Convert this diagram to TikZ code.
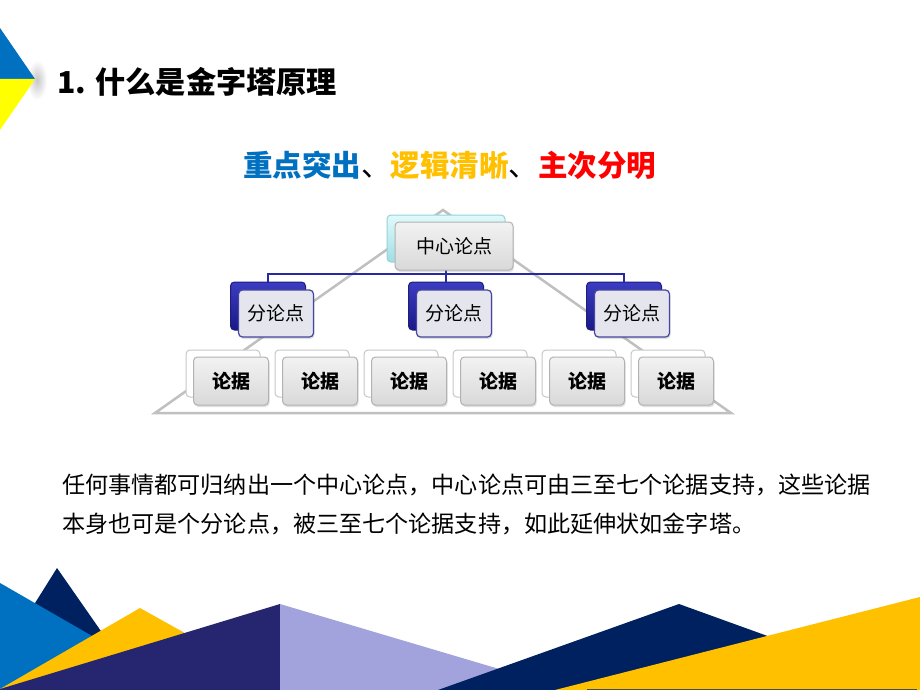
\documentclass[tikz,border=0pt]{standalone}
\usepackage{fontspec}
\newfontfamily\cjk{Noto Sans CJK SC}
\usetikzlibrary{shadows}
\definecolor{tblue}{RGB}{0,112,192}
\definecolor{tyellow}{RGB}{255,192,0}
\definecolor{tred}{RGB}{255,0,0}
\definecolor{navy}{RGB}{0,33,96}
\definecolor{dpurple}{RGB}{38,38,112}
\definecolor{lpurple}{RGB}{162,162,220}
\definecolor{lineblue}{RGB}{40,40,160}
\definecolor{pyrgray}{RGB}{192,192,192}
\definecolor{cornerblue}{RGB}{0,112,192}
\definecolor{corneryellow}{RGB}{255,255,0}
\tikzset{
  basebox/.style={rounded corners=4pt, inner sep=0pt, line width=1pt},
  frontbox/.style={basebox, draw=black!30, top color=black!5, bottom color=black!15,
    minimum width=75pt, minimum height=48pt,
    drop shadow={shadow xshift=1pt, shadow yshift=-2pt, opacity=0.25}},
  leafback/.style={basebox, draw=black!22, fill=white, minimum width=74pt, minimum height=47pt},
  subback/.style={basebox, draw={rgb,255:red,30;green,30;blue,120}, top color={rgb,255:red,60;green,60;blue,195},
    bottom color={rgb,255:red,25;green,25;blue,135}, minimum width=75pt, minimum height=48pt},
  subfront/.style={basebox, draw={rgb,255:red,70;green,70;blue,160}, line width=1.2pt,
    fill={rgb,255:red,229;green,229;blue,238}, minimum width=75pt, minimum height=47pt,
    drop shadow={shadow xshift=1pt, shadow yshift=-2pt, opacity=0.25}},
  centerback/.style={basebox, draw={rgb,255:red,150;green,210;blue,218}, top color={rgb,255:red,225;green,250;blue,250},
    bottom color={rgb,255:red,160;green,222;blue,230}, minimum width=118pt, minimum height=47pt},
  nodetxt/.style={font=\cjk\fontsize{19}{22}\selectfont},
  leaftxt/.style={font=\cjk\bfseries\fontsize{19}{22}\selectfont},
  connector/.style={draw=lineblue, line width=2pt},
  pyrline/.style={draw=pyrgray, line width=2.5pt, line join=miter},
}
\begin{document}
\begin{tikzpicture}[x=1pt,y=-1pt]
\useasboundingbox (0,0) rectangle (920,690);
\fill[white] (0,0) rectangle (920,690);

% top-left corner decoration
\shade[inner color=black!22, outer color=white] (37,80) ellipse (10 and 20);
\fill[cornerblue] (0,28) -- (35,79) -- (0,79) -- cycle;
\fill[corneryellow] (0,79) -- (35,79) -- (0,130) -- cycle;

% title
\node[anchor=west, inner sep=0pt, font=\cjk\bfseries\fontsize{30.2}{35}\selectfont] (title) at (57,82) {1. 什么是金字塔原理};

% subtitle
\node[inner sep=0pt, font=\cjk\bfseries\fontsize{29.5}{34}\selectfont] (sub) at (449.5,165)
  {\textcolor{tblue}{重点突出}{\mdseries 、}\textcolor{tyellow}{逻辑清晰}{\mdseries 、}\textcolor{tred}{主次分明}};

% pyramid outline
\coordinate (pl) at (155,413);
\coordinate (pt) at (443,210);
\coordinate (pr) at (731,413);
\draw[pyrline] (pl) -- (pt) -- (pr) -- cycle;

% back boxes
\node[centerback] (cb) at (446,238.5) {};
\node[subback] (sb1) at (268,306) {};
\node[subback] (sb2) at (446,306) {};
\node[subback] (sb3) at (624,306) {};
\foreach \i in {0,...,5}{
  \node[leafback] (lb\i) at ({223+89*\i},373.5) {};
}

% connectors
\coordinate (bus) at (446,274);
\draw[connector] (cb.south) -- (bus);
\draw[connector] (sb1.north) |- (bus) -| (sb3.north);
\draw[connector] (bus) -- (sb2.north);

% front boxes
\node[frontbox, minimum width=118pt, nodetxt] (cf) at (454,246) {中心论点};
\node[subfront, nodetxt] (sf1) at (276,313.5) {分论点};
\node[subfront, nodetxt] (sf2) at (454,313.5) {分论点};
\node[subfront, nodetxt] (sf3) at (632,313.5) {分论点};
\foreach \i in {0,...,5}{
  \node[frontbox, leaftxt] (lf\i) at ({231+89*\i},381) {论据};
}

% body text
\node[anchor=west, inner sep=0pt, align=left, font=\cjk\fontsize{23.1}{39}\selectfont] (body) at (62,504.5)
  {任何事情都可归纳出一个中心论点，中心论点可由三至七个论据支持，这些论据\\本身也可是个分论点，被三至七个论据支持，如此延伸状如金字塔。};

% bottom decoration
\fill[navy] (0,659) -- (57,568) -- (142,690) -- (0,690) -- cycle;
\fill[tblue] (0,583) -- (186,690) -- (0,690) -- cycle;
\fill[tyellow] (0,689) -- (140,608) -- (287,690) -- (0,690) -- cycle;
\fill[dpurple] (0,689) -- (280,604) -- (280,690) -- (0,690) -- cycle;
\fill[lpurple] (280,604) -- (570,690) -- (280,690) -- cycle;
\fill[navy] (438,690) -- (679,604) -- (917,690) -- cycle;
\fill[tyellow] (555,690) -- (920,597) -- (920,690) -- cycle;
\draw[black!70, line width=1pt] (587,689.5) -- (917,689.5);
\end{tikzpicture}
\end{document}
